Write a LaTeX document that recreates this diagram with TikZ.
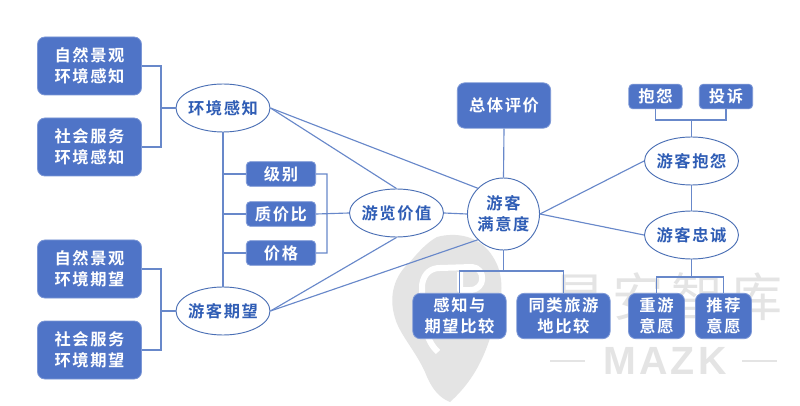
\documentclass[tikz,border=0pt]{standalone}
\usepackage{fontspec}
\newfontfamily\cjk{Noto Sans CJK SC}[BoldFont={* Bold},LetterSpace=10]
\newfontfamily\wmcjk{Noto Sans CJK SC}[LetterSpace=14]
\newfontfamily\wmlat{Liberation Sans}[BoldFont={* Bold},LetterSpace=8]
\usetikzlibrary{shapes.geometric}
\definecolor{boxblue}{HTML}{4F74C7}
\definecolor{boxedge}{HTML}{7C97D6}
\definecolor{linkblue}{HTML}{6888CA}
\definecolor{ovaltext}{HTML}{2F5DB5}
\definecolor{ovaledge}{HTML}{4A6FB5}
\definecolor{wmgrey}{HTML}{E4E4E4}
\tikzset{
  x=0.75pt,y=-0.75pt,
  rbox/.style={rectangle,rounded corners=5.5pt,fill=boxblue,draw=boxedge,line width=0.6pt,text=white,inner sep=0pt,align=center,font=\cjk\bfseries\fontsize{12.2pt}{15.6pt}\selectfont},
  bigbox/.style={rbox,minimum width=78pt,minimum height=43.5pt},
  midbox/.style={rbox,minimum width=70pt,minimum height=34pt},
  smallbox/.style={rbox,minimum width=42pt,minimum height=34pt},
  tagbox/.style={rbox,minimum height=18.5pt,rounded corners=3pt},
  oval/.style={ellipse,draw=ovaledge,fill=white,line width=0.7pt,text=ovaltext,inner ysep=0pt,inner xsep=-2.4pt,minimum width=70.5pt,minimum height=36pt,align=center,font=\cjk\bfseries\fontsize{12.2pt}{15.6pt}\selectfont},
  link/.style={draw=linkblue,line width=0.85pt},
  wm/.style={text=wmgrey,inner sep=0pt,font=\wmcjk\fontsize{39pt}{39pt}\selectfont}
}
\begin{document}
\begin{tikzpicture}
\useasboundingbox (0,0) rectangle (800,406);
\fill[white] (0,0) rectangle (800,406);
% watermark
\fill[wmgrey] (437,237) .. controls (455,232) and (480,235) .. (493,257) .. controls (505,275) and (503,300) .. (495,322) .. controls (488,345) and (480,375) .. (450,402) .. controls (440,398) and (432,390) .. (425,372) .. controls (415,350) and (400,335) .. (395,318) .. controls (388,295) and (395,275) .. (410,262) .. controls (420,250) and (428,242) .. (437,237) -- cycle;
\draw[white,line width=4.5pt,line join=round] (438,352) .. controls (425,340) and (423,320) .. (422,300) -- (422,285) .. controls (424,272) and (432,268) .. (440,268) -- (472,267) .. controls (486,268) and (486,290) .. (470,290) -- (460,290) -- (460,272);
\node[wm] (wmname) at (668,297) {星安智库};
\node[text=wmgrey,inner sep=0pt,font=\wmlat\bfseries\fontsize{29.5pt}{29.5pt}\selectfont] (wmlatin) at (665,361) {MAZK};
\coordinate (wa) at (550,361); \coordinate (wb) at (585,361);
\coordinate (wc) at (742,361); \coordinate (wd) at (777,361);
\draw[wmgrey,line width=1.9pt] (wa) -- (wb) (wc) -- (wd);
% nodes
\path
 (89.5,66) node[bigbox] (a1) {自然景观\\环境感知}
 (89.5,147) node[bigbox] (a2) {社会服务\\环境感知}
 (89.5,269) node[bigbox] (a3) {自然景观\\环境期望}
 (89.5,350) node[bigbox] (a4) {社会服务\\环境期望}
 (281,174) node[tagbox,minimum width=52pt] (b1) {级别}
 (281,214) node[tagbox,minimum width=52pt] (b2) {质价比}
 (281,253) node[tagbox,minimum width=52pt] (b3) {价格}
 (504,105.5) node[midbox] (t) {总体评价}
 (655.5,96.5) node[tagbox,minimum width=40pt] (c1) {抱怨}
 (726,96.5) node[tagbox,minimum width=40pt] (c2) {投诉}
 (459.5,316) node[midbox] (d1) {感知与\\期望比较}
 (563.5,316) node[midbox] (d2) {同类旅游\\地比较}
 (656.5,316) node[smallbox] (d3) {重游\\意愿}
 (723.5,316) node[smallbox] (d4) {推荐\\意愿}
 (223,108) node[oval] (e1) {环境感知}
 (223,311) node[oval] (e2) {游客期望}
 (396.5,213) node[oval] (e3) {游览价值}
 (691.5,161) node[oval] (e4) {游客抱怨}
 (691.5,235) node[oval] (e5) {游客忠诚}
 (503.5,214) node[oval,minimum width=54pt,minimum height=54pt] (s) {游客\\满意度};
% connectors
\coordinate (j1) at (161,108);
\coordinate (j2) at (161,311);
\draw[link] (a1.east) -| (j1) (a2.east) -| (j1) (j1) -- (e1.west);
\draw[link] (a3.east) -| (j2) (a4.east) -| (j2) (j2) -- (e2.west);
\draw[link] (e1.south) -- (e2.north);
\draw[link] (b1.west) -- (b1.west -| e1.south);
\draw[link] (b2.west) -- (b2.west -| e1.south);
\draw[link] (b3.west) -- (b3.west -| e1.south);
\coordinate (j3) at (327,213);
\draw[link] (b1.east) -| (j3) (b3.east) -| (j3) (b2.east) -- (e3.west);
\draw[link] (e1.east) -- (e3.north);
\draw[link] (e1.east) -- (s.north west);
\draw[link] (e2.east) -- (e3.south);
\draw[link] (e2.east) -- (s.south west);
\draw[link] (e3.east) -- (s.west);
\draw[link] (t.south) -- (s.north);
\draw[link] (s.east) -- (e4.west);
\draw[link] (s.east) -- (e5.west);
\draw[link] (e4.south) -- (e5.north);
\coordinate (j4) at (691.5,120);
\draw[link] (c1.south) |- (j4) (c2.south) |- (j4) (j4) -- (e4.north);
\coordinate (j5) at (503.5,271);
\draw[link] (s.south) -- (j5) (d1.north) |- (j5) (d2.north) |- (j5);
\coordinate (j6) at (691.5,277);
\draw[link] (e5.south) -- (j6) (d3.north) |- (j6) (d4.north) |- (j6);
\end{tikzpicture}
\end{document}
